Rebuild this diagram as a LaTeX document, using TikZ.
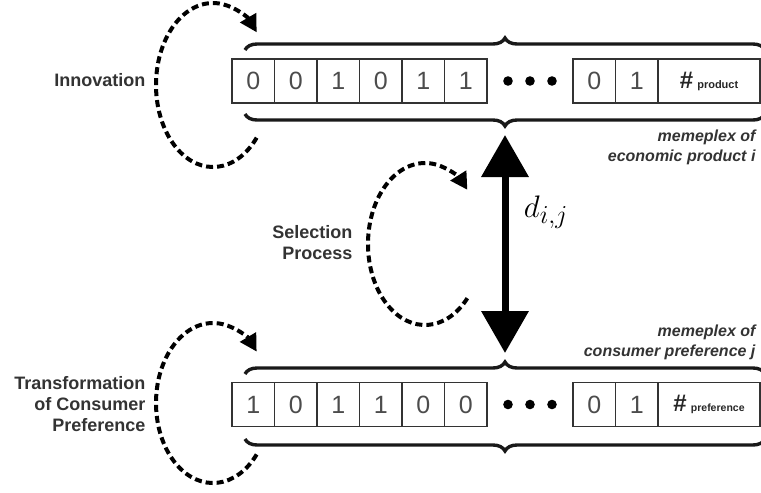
\documentclass[tikz,border=0pt]{standalone}
\usepackage{fontspec}
\setmainfont{Liberation Sans}
\usetikzlibrary{arrows.meta,decorations.pathreplacing,positioning}

\tikzset{
  bit/.style={draw=black!80,line width=1.4pt,outer sep=0pt,inner sep=0pt,
    minimum width=42.5pt,minimum height=44pt,text=black!70,
    font=\fontsize{25}{25}\selectfont},
  tagbit/.style={bit,minimum width=102pt,text=black!85},
  brc/.style={decorate,decoration={brace,amplitude=12pt},line width=3.4pt,draw=black!90},
  loopy/.style={line width=4pt,dash pattern=on 7pt off 4pt,
    -{Triangle[length=17pt,width=18pt]}},
  dist/.style={line width=7pt,shorten <=9pt,shorten >=9pt,
    {Triangle[length=42pt,width=46pt]}-{Triangle[length=42pt,width=46pt]}},
  lbl/.style={anchor=east,align=right,text=black!80,
    font=\fontsize{18}{21}\selectfont\bfseries},
  memo/.style={anchor=east,align=right,text=black!80,
    font=\fontsize{16}{20}\selectfont\bfseries\itshape}
}

\begin{document}
\begin{tikzpicture}[x=1pt,y=-1pt]
  \useasboundingbox (0,0) rectangle (761,493);

  \foreach \b [count=\i] in {0,0,1,0,1,1}
    {\node[bit] (p\i) at (210.75+42.5*\i,81) {\b};}
  \node[bit] (p7) at (594.25,81) {0};
  \node[bit,right=0pt of p7] (p8) {1};
  \node[tagbit,right=0pt of p8] (p9) {\textbf{\fontsize{24}{24}\selectfont\#}\,{\bfseries\fontsize{11}{11}\selectfont product}};

  \foreach \b [count=\i] in {1,0,1,1,0,0}
    {\node[bit] (c\i) at (210.75+42.5*\i,404.5) {\b};}
  \node[bit] (c7) at (594.25,404.5) {0};
  \node[bit,right=0pt of c7] (c8) {1};
  \node[tagbit,right=0pt of c8] (c9) {\textbf{\fontsize{24}{24}\selectfont\#}\,{\bfseries\fontsize{10.5}{11}\selectfont preference}};

  \foreach \x in {508,530,552}
    {\fill (\x,81) circle (4.8pt);
     \fill (\x,404.5) circle (4.8pt);}

  \draw[brc] (245,50) -- (765,50);
  \draw[brc] (765,114) -- (245,114);
  \draw[brc] (245,374) -- (765,374);
  \draw[brc] (765,439) -- (245,439);

  \coordinate (ptip) at (505,126);
  \coordinate (ctip) at (505,362);
  \draw[dist] (ptip) -- (ctip);
  \node[scale=1.25] (dij) at (546,212) {\Huge $d_{i,j}$};

  \node[lbl] (innov) at (149,80) {Innovation};
  \node[lbl] (sel) at (356,243) {Selection\\Process};
  \node[lbl] (trans) at (149,404) {Transformation\\of Consumer\\Preference};
  \node[memo] (mp) at (759,147) {memeplex of\\economic product i};
  \node[memo] (mc) at (759,342) {memeplex of\\consumer preference j};

  \coordinate (iloop) at (213,85);
  \coordinate (sloop) at (425,244);
  \coordinate (tloop) at (213,403);
  \draw[loopy] ([shift={(40:57 and 82)}]iloop) arc[start angle=40,end angle=320,x radius=57,y radius=82];
  \draw[loopy] ([shift={(42:57 and 81)}]sloop) arc[start angle=42,end angle=318,x radius=57,y radius=81];
  \draw[loopy] ([shift={(40:57 and 80)}]tloop) arc[start angle=40,end angle=320,x radius=57,y radius=80];
\end{tikzpicture}
\end{document}
